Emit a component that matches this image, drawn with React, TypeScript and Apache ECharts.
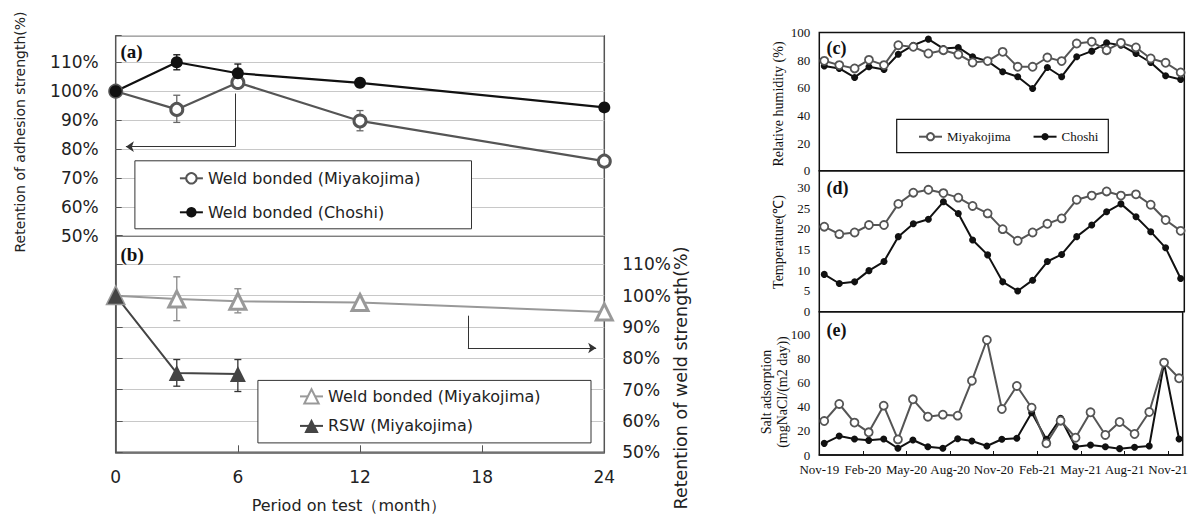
import React, { useEffect, useRef } from "react";
import * as echarts from "echarts";

// ---------- Left chart data ----------
const periodMonths = [0, 3, 6, 12, 24];
const rswMonths = [0, 3, 6];
const periodTicks = [0, 6, 12, 18, 24];
const adhesionMiyakojima = [100, 93.7, 103, 89.7, 75.8];
const adhesionChoshi = [100, 110, 106.2, 102.9, 94.4];
const weldBondedMiyakojima = [100, 98.9, 98.2, 97.8, 94.8];
const rswMiyakojima = [100, 75.3, 75.0];
// error bars: [month, low, high]
const adhesionMiyakojimaErr = [[3, 89.2, 98.6], [12, 86.3, 93.3]];
const adhesionChoshiErr = [[3, 107.4, 112.6], [6, 103.2, 109.4]];
const weldBondedErr = [[3, 92, 106], [6, 94.5, 102.2]];
const rswErr = [[3, 71.1, 79.6], [6, 69.4, 79.6]];
// arrows (month, %)
const arrowA = [[5.87, 99.2], [5.87, 80.8], [0.5, 80.8]];
const arrowB = [[17.3, 93.6], [17.3, 83.3], [23.6, 83.3]];

// ---------- Right chart data ----------
const sampleMonths = [0.34, 1.37, 2.42, 3.4, 4.43, 5.41, 6.44, 7.47, 8.5, 9.52, 10.5, 11.53, 12.56, 13.59, 14.61, 15.62, 16.6, 17.63, 18.66, 19.68, 20.66, 21.69, 22.7, 23.72, 24.75];
const monthTickLabels = ["Nov-19", "Feb-20", "May-20", "Aug-20", "Nov-20", "Feb-21", "May-21", "Aug-21", "Nov-21"];
const humidityMiyakojima = [79.5, 76.4, 74, 80.2, 76.4, 90.8, 89.6, 84.8, 87.2, 84.1, 78.3, 79.3, 86, 75.2, 75.2, 81.9, 79.3, 92, 93.3, 87.2, 92.5, 89.2, 81.2, 78.1, 71.1];
const humidityChoshi = [75.7, 74, 67.5, 75.2, 73.3, 84.3, 90.8, 95.2, 88.4, 89.2, 82.4, 79.3, 71.6, 68, 59.5, 74.7, 68, 82.4, 86.5, 92.5, 90.8, 84.8, 78.3, 68.7, 66];
const tempMiyakojima = [20.5, 18.7, 19.1, 20.9, 20.9, 26, 28.7, 29.4, 28.6, 27.5, 25.5, 23.7, 19.9, 17.1, 19.1, 21.2, 22.5, 27, 28, 29, 28, 28.3, 25.8, 22.1, 19.5];
const tempChoshi = [9, 6.8, 7.2, 9.9, 12.1, 18.1, 21.2, 22.3, 26.5, 23.7, 17.3, 13.7, 7.2, 5, 7.6, 12.1, 13.8, 18.1, 20.9, 24.1, 26, 22.9, 19.3, 15.4, 8];
const saltMiyakojima = [28.3, 42.5, 27, 18.9, 41.1, 13, 46.4, 31.9, 33.6, 32.8, 61.9, 95.8, 38.3, 57.5, 39.4, 9.7, 28.6, 14.4, 35.6, 16.7, 27.5, 17.5, 35.8, 77, 63.9];
const saltChoshi = [9.7, 15.8, 13.3, 12.2, 13.3, 5.6, 12.5, 6.9, 5.6, 13.6, 11.7, 7.5, 13.1, 13.9, 35.3, 13.1, 30.6, 6.9, 8.3, 6.9, 5.3, 6.4, 7.5, 76.4, 13.3];

const legendNames: Record<string, string> = {
  aM: "Weld bonded (Miyakojima)",
  aC: "Weld bonded (Choshi)",
  bW: "Weld bonded (Miyakojima)",
  bR: "RSW (Miyakojima)",
};

const SANS = "DejaVu Sans";
const SERIF = "Liberation Serif";

const zip = (xs: number[], ys: number[]) => ys.map((y, i) => [xs[i], y]);
const isMult = (v: number, m: number) => Math.abs(v - Math.round(v / m) * m) < 1e-6;

function errorSeries(data: number[][], color: string, axisIdx: number) {
  return {
    type: "custom",
    xAxisIndex: axisIdx,
    yAxisIndex: axisIdx,
    z: 1,
    data,
    encode: { x: 0, y: [1, 2] },
    renderItem: (_p: any, api: any) => {
      const x = api.value(0);
      const p1 = api.coord([x, api.value(2)]);
      const p2 = api.coord([x, api.value(1)]);
      const w = 3.5;
      const style = { stroke: color, lineWidth: 1.3 };
      return {
        type: "group",
        children: [
          { type: "line", shape: { x1: p1[0], y1: p1[1], x2: p2[0], y2: p2[1] }, style },
          { type: "line", shape: { x1: p1[0] - w, y1: p1[1], x2: p1[0] + w, y2: p1[1] }, style },
          { type: "line", shape: { x1: p2[0] - w, y1: p2[1], x2: p2[0] + w, y2: p2[1] }, style },
        ],
      };
    },
  };
}

function arrowSeries(coords: number[][], axisIdx: number) {
  const base = {
    type: "lines",
    coordinateSystem: "cartesian2d",
    xAxisIndex: axisIdx,
    yAxisIndex: axisIdx,
    lineStyle: { color: "#333", width: 1, opacity: 1, curveness: 0 },
    z: 2,
  };
  return [
    { ...base, symbol: ["none", "none"], data: [{ coords: [coords[0], coords[1]] }] },
    { ...base, symbol: ["none", "arrow"], symbolSize: 8, data: [{ coords: [coords[1], coords[2]] }] },
  ];
}

const leftGridX = 115.7;
const leftGridW = 488.6;
const rightGridX = 819.3;
const rightGridW = 365;

const option: any = {
  animation: false,
  backgroundColor: "#fff",
  grid: [
    { left: leftGridX, top: 35.7, width: leftGridW, height: 200, show: true, borderColor: "#555", borderWidth: 1.5, backgroundColor: "transparent" },
    { left: leftGridX, top: 235.7, width: leftGridW, height: 216.6, show: true, borderColor: "#555", borderWidth: 1.5, backgroundColor: "transparent" },
    { left: rightGridX, top: 32.5, width: rightGridW, height: 138.2, show: true, borderColor: "#111", borderWidth: 1.5, backgroundColor: "transparent" },
    { left: rightGridX, top: 170.7, width: rightGridW, height: 141, show: true, borderColor: "#111", borderWidth: 1.5, backgroundColor: "transparent" },
    { left: rightGridX, top: 311.7, width: rightGridW, height: 143.3, show: true, borderColor: "#111", borderWidth: 1.5, backgroundColor: "transparent" },
  ],
  xAxis: [
    { type: "value", gridIndex: 0, min: 0, max: 24, interval: 6, show: false },
    {
      type: "value", gridIndex: 1, min: 0, max: 24, interval: 6,
      axisLine: { show: true, lineStyle: { color: "#555", width: 1.5 } },
      axisTick: { show: true, inside: true, length: 7, lineStyle: { color: "#555" } },
      axisLabel: { margin: 16, fontSize: 17, fontFamily: SANS, color: "#222", formatter: (v: number) => (periodTicks.some((t) => Math.abs(v - t) < 1e-6) ? String(Math.round(v)) : "") },
      splitLine: { show: false },
    },
    { type: "value", gridIndex: 2, min: 0, max: 25, interval: 3, show: false },
    { type: "value", gridIndex: 3, min: 0, max: 25, interval: 3, show: false },
    {
      type: "value", gridIndex: 4, min: 0, max: 25, interval: 3,
      axisLine: { show: true, lineStyle: { color: "#111", width: 1.5 } },
      axisTick: { show: true, inside: true, length: 4, lineStyle: { color: "#111" } },
      axisLabel: {
        margin: 8, fontSize: 13, fontFamily: SERIF, color: "#111",
        formatter: (v: number) => {
          if (!isMult(v, 3)) return "";
          const i = Math.round(v / 3);
          return monthTickLabels[i] ?? "";
        },
      },
      splitLine: { show: false },
    },
  ],
  yAxis: [
    {
      type: "value", gridIndex: 0, min: 50, max: 119.2, interval: 10, position: "left",
      axisLine: { show: false },
      axisTick: { show: true, inside: true, length: 6, lineStyle: { color: "#555" } },
      axisLabel: { margin: 17, fontSize: 17, fontFamily: SANS, color: "#222", formatter: (v: number) => (isMult(v, 10) ? `${Math.round(v)}%` : "") },
      splitLine: { show: true, lineStyle: { color: "#c8c8c8", width: 1 } },
    },
    {
      type: "value", gridIndex: 1, min: 50, max: 119.13, interval: 10, position: "right",
      axisLine: { show: true, lineStyle: { color: "#555", width: 1.5 } },
      axisTick: { show: true, inside: false, length: 7, lineStyle: { color: "#555" } },
      axisLabel: { margin: 18, fontSize: 17, fontFamily: SANS, color: "#222", formatter: (v: number) => (isMult(v, 10) ? `${Math.round(v)}%` : "") },
      splitLine: { show: true, lineStyle: { color: "#c8c8c8", width: 1 } },
    },
    {
      type: "value", gridIndex: 2, min: 0, max: 100, interval: 20,
      axisLine: { show: false }, axisTick: { show: false }, splitLine: { show: false },
      axisLabel: { margin: 9, fontSize: 13, fontFamily: SERIF, color: "#111" },
    },
    {
      type: "value", gridIndex: 3, min: 0, max: 34, interval: 5,
      axisLine: { show: false }, axisTick: { show: false }, splitLine: { show: false },
      axisLabel: { margin: 9, fontSize: 13, fontFamily: SERIF, color: "#111", formatter: (v: number) => (isMult(v, 5) && v <= 30 ? String(Math.round(v)) : "") },
    },
    {
      type: "value", gridIndex: 4, min: 0, max: 119.4, interval: 20,
      axisLine: { show: false }, axisTick: { show: false }, splitLine: { show: false },
      axisLabel: { margin: 9, fontSize: 13, fontFamily: SERIF, color: "#111", formatter: (v: number) => (isMult(v, 20) && v <= 100 ? String(Math.round(v)) : "") },
    },
  ],
  legend: [
    {
      data: ["aM", "aC"], formatter: (n: string) => legendNames[n], selectedMode: false,
      orient: "vertical", left: 178.9, top: 170.3, itemWidth: 23, itemHeight: 13, itemGap: 18, padding: 0,
      textStyle: { fontFamily: SANS, fontSize: 16, color: "#222" },
    },
    {
      data: ["bW", "bR"], formatter: (n: string) => legendNames[n], selectedMode: false,
      orient: "vertical", left: 299, top: 388.2, itemWidth: 23, itemHeight: 18, itemGap: 13.3, padding: 0,
      textStyle: { fontFamily: SANS, fontSize: 16, color: "#222" },
    },
    {
      data: ["Miyakojima", "Choshi"], selectedMode: false,
      orient: "horizontal", left: 918, top: 130.2, itemWidth: 23, itemHeight: 9, itemGap: 22, padding: 0,
      textStyle: { fontFamily: SERIF, fontSize: 13, color: "#111" },
    },
  ],
  series: [
    // (a)
    errorSeries(adhesionMiyakojimaErr, "#666", 0),
    errorSeries(adhesionChoshiErr, "#111", 0),
    {
      name: "aM", type: "line", xAxisIndex: 0, yAxisIndex: 0, data: zip(periodMonths, adhesionMiyakojima),
      symbol: "circle", symbolSize: 12,
      lineStyle: { color: "#555", width: 2.2 },
      itemStyle: { color: "#fff", borderColor: "#555", borderWidth: 3 },
    },
    {
      name: "aC", type: "line", xAxisIndex: 0, yAxisIndex: 0, data: zip(periodMonths, adhesionChoshi),
      symbol: "circle", symbolSize: 12,
      lineStyle: { color: "#111", width: 2.2 },
      itemStyle: { color: "#111", borderColor: "#111", borderWidth: 0 },
    },
    ...arrowSeries(arrowA, 0),
    // (b)
    errorSeries(weldBondedErr, "#888", 1),
    errorSeries(rswErr, "#333", 1),
    {
      name: "bW", type: "line", xAxisIndex: 1, yAxisIndex: 1, data: zip(periodMonths, weldBondedMiyakojima),
      symbol: "triangle", symbolSize: 16,
      lineStyle: { color: "#999", width: 2 },
      itemStyle: { color: "#fff", borderColor: "#999", borderWidth: 3 },
    },
    {
      name: "bR", type: "line", xAxisIndex: 1, yAxisIndex: 1, data: zip(rswMonths, rswMiyakojima),
      symbol: "triangle", symbolSize: 16,
      lineStyle: { color: "#444", width: 2 },
      itemStyle: { color: "#444", borderColor: "#444", borderWidth: 0 },
    },
    ...arrowSeries(arrowB, 1),
    // (c)
    {
      name: "Choshi", type: "line", xAxisIndex: 2, yAxisIndex: 2, data: zip(sampleMonths, humidityChoshi),
      symbol: "circle", symbolSize: 7, lineStyle: { color: "#111", width: 2 }, itemStyle: { color: "#111", borderWidth: 0 },
    },
    {
      name: "Miyakojima", type: "line", xAxisIndex: 2, yAxisIndex: 2, data: zip(sampleMonths, humidityMiyakojima),
      symbol: "circle", symbolSize: 8, lineStyle: { color: "#555", width: 2 }, itemStyle: { color: "#fff", borderColor: "#555", borderWidth: 1.8 },
    },
    // (d)
    {
      name: "Choshi", type: "line", xAxisIndex: 3, yAxisIndex: 3, data: zip(sampleMonths, tempChoshi),
      symbol: "circle", symbolSize: 7, lineStyle: { color: "#111", width: 2 }, itemStyle: { color: "#111", borderWidth: 0 },
    },
    {
      name: "Miyakojima", type: "line", xAxisIndex: 3, yAxisIndex: 3, data: zip(sampleMonths, tempMiyakojima),
      symbol: "circle", symbolSize: 8, lineStyle: { color: "#555", width: 2 }, itemStyle: { color: "#fff", borderColor: "#555", borderWidth: 1.8 },
    },
    // (e)
    {
      name: "Choshi", type: "line", xAxisIndex: 4, yAxisIndex: 4, data: zip(sampleMonths, saltChoshi),
      symbol: "circle", symbolSize: 7, lineStyle: { color: "#111", width: 2 }, itemStyle: { color: "#111", borderWidth: 0 },
    },
    {
      name: "Miyakojima", type: "line", xAxisIndex: 4, yAxisIndex: 4, data: zip(sampleMonths, saltMiyakojima),
      symbol: "circle", symbolSize: 8, lineStyle: { color: "#555", width: 2 }, itemStyle: { color: "#fff", borderColor: "#555", borderWidth: 1.8 },
    },
  ],
  graphic: [
    { type: "rect", z: 3, shape: { x: 134.9, y: 160.8, width: 336.6, height: 68 }, style: { fill: "#fff", stroke: "#333", lineWidth: 1 } },
    { type: "rect", z: 3, shape: { x: 257.9, y: 380.4, width: 333.1, height: 62.5 }, style: { fill: "#fff", stroke: "#333", lineWidth: 1 } },
    { type: "rect", z: 3, shape: { x: 896.7, y: 119.3, width: 211.6, height: 33.4 }, style: { fill: "#fff", stroke: "#111", lineWidth: 1.2 } },
    { type: "text", z: 5, x: 120.5, y: 51.7, style: { text: "(a)", fontFamily: SERIF, fontWeight: "bold", fontSize: 19, fill: "#111", align: "left", verticalAlign: "middle" } },
    { type: "text", z: 5, x: 120.5, y: 254.3, style: { text: "(b)", fontFamily: SERIF, fontWeight: "bold", fontSize: 19, fill: "#111", align: "left", verticalAlign: "middle" } },
    { type: "text", z: 5, x: 826.5, y: 48.3, style: { text: "(c)", fontFamily: SERIF, fontWeight: "bold", fontSize: 18, fill: "#111", align: "left", verticalAlign: "middle" } },
    { type: "text", z: 5, x: 826.5, y: 188.3, style: { text: "(d)", fontFamily: SERIF, fontWeight: "bold", fontSize: 18, fill: "#111", align: "left", verticalAlign: "middle" } },
    { type: "text", z: 5, x: 826.5, y: 330, style: { text: "(e)", fontFamily: SERIF, fontWeight: "bold", fontSize: 18, fill: "#111", align: "left", verticalAlign: "middle" } },
    { type: "text", z: 5, x: 20, y: 132, rotation: Math.PI / 2, style: { text: "Retention of adhesion strength(%)", fontFamily: SANS, fontSize: 14, fill: "#222", align: "center", verticalAlign: "middle" } },
    { type: "text", z: 5, x: 681, y: 378, rotation: Math.PI / 2, style: { text: "Retention of weld strength(%)", fontFamily: SANS, fontSize: 17.5, fill: "#222", align: "center", verticalAlign: "middle" } },
    { type: "text", z: 5, x: 349, y: 505, style: { text: "Period on test（month）", fontFamily: SANS, fontSize: 16, fill: "#222", align: "center", verticalAlign: "middle" } },
    { type: "text", z: 5, x: 778, y: 104, rotation: Math.PI / 2, style: { text: "Relative humidity (%)", fontFamily: SERIF, fontSize: 14, fill: "#111", align: "center", verticalAlign: "middle" } },
    { type: "text", z: 5, x: 778, y: 242, rotation: Math.PI / 2, style: { text: "Temperature(℃)", fontFamily: SERIF, fontSize: 14, fill: "#111", align: "center", verticalAlign: "middle" } },
    { type: "text", z: 5, x: 774, y: 392, rotation: Math.PI / 2, style: { text: "Salt adsorption\n(mgNaCl/(m2 day))", fontFamily: SERIF, fontSize: 14, lineHeight: 16, fill: "#111", align: "center", verticalAlign: "middle" } },
  ],
};

export default function App() {
  const ref = useRef<HTMLDivElement>(null);
  useEffect(() => {
    if (!ref.current) return;
    const chart = echarts.init(ref.current, null, { renderer: "svg" });
    chart.setOption(option);
    return () => chart.dispose();
  }, []);
  return (
    <div
      ref={ref}
      style={{ position: "absolute", left: 0, top: 0, width: 1191, height: 517, background: "#fff" }}
    />
  );
}
